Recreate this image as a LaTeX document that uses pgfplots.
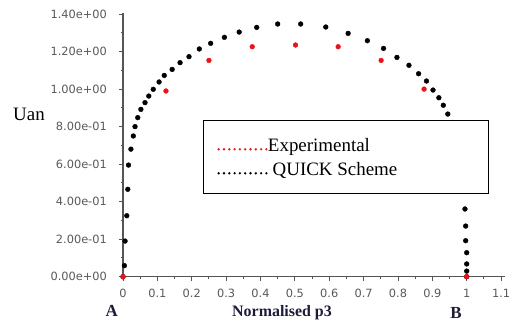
\documentclass[border=0pt]{standalone}
\usepackage{pgfplots}
\pgfplotsset{compat=1.18}
\usepackage{fontspec}
\setmainfont{Liberation Serif}
\newfontfamily\dejavu{DejaVu Sans}
\definecolor{axgray}{HTML}{555555}
\definecolor{expred}{HTML}{E8141C}
\definecolor{labnavy}{HTML}{1C1C38}
\begin{document}
\begin{tikzpicture}
\begin{axis}[
  x=343.7bp, y=187.6bp,
  xmin=0, xmax=1.111, ymin=0, ymax=1.405,
  axis lines*=left,
  axis line style={axgray, line width=1.1bp},
  clip=false,
  xtick={0,0.1,0.2,0.3,0.4,0.5,0.6,0.7,0.8,0.9,1,1.1},
  xticklabels={0,0.1,0.2,0.3,0.4,0.5,0.6,0.7,0.8,0.9,1,1.1},
  ytick={0,0.2,0.4,0.6,0.8,1.0,1.2,1.4},
  yticklabels={0.00e+00,2.00e-01,4.00e-01,6.00e-01,8.00e-01,1.00e+00,1.20e+00,1.40e+00},
  minor x tick num=1, minor y tick num=1,
  tick align=outside,
  major tick length=4bp, minor tick length=2.5bp,
  tick style={axgray, line width=0.9bp},
  ticklabel style={font=\dejavu\fontsize{11.4}{13}\selectfont, text=black!65},
  xticklabel style={inner sep=0pt, anchor=north, yshift=-8bp},
  yticklabel style={inner sep=0pt, anchor=east, xshift=-12bp},
  legend style={at={(axis cs:0.2336,0.835)}, anchor=north west, draw=black, line width=1.2bp,
    fill=white, font=\fontsize{19}{22}\selectfont, inner xsep=13.5bp, inner ysep=12.6bp,
    column sep=0pt, row sep=0pt,
    nodes={inner sep=0pt, minimum height=24bp, anchor=west}},
  legend cell align=left,
]
\addplot[only marks, mark=*, mark size=2.4bp, black, forget plot] coordinates {
(0,0) (0.004,0.059) (0.006,0.190) (0.011,0.325) (0.014,0.466) (0.016,0.595)
(0.023,0.68) (0.030,0.75) (0.035,0.80) (0.043,0.848) (0.052,0.892) (0.064,0.928)
(0.075,0.963) (0.088,0.999) (0.105,1.038) (0.120,1.073) (0.143,1.105) (0.166,1.141)
(0.192,1.173) (0.222,1.214) (0.255,1.244) (0.295,1.276) (0.338,1.304) (0.389,1.329)
(0.450,1.347) (0.517,1.347) (0.590,1.331) (0.655,1.297) (0.711,1.258) (0.758,1.217)
(0.797,1.169) (0.832,1.127) (0.860,1.082) (0.883,1.043) (0.902,0.995) (0.919,0.954)
(0.932,0.914) (0.945,0.867) (0.957,0.80) (0.966,0.72) (0.975,0.64) (0.983,0.56)
(0.989,0.49) (0.995,0.361) (0.997,0.270) (0.997,0.192) (1.0,0.128) (1.0,0.068)
(1.0,0.030) (1.0,0)
};
\addplot[only marks, mark=*, mark size=2.4bp, expred, forget plot] coordinates {
(0,0) (0.125,0.990) (0.25,1.153) (0.376,1.226) (0.502,1.235) (0.626,1.226)
(0.751,1.153) (0.876,1.0) (1,0)
};
\addlegendimage{legend image code/.code={\draw[expred, line width=2.6bp, line cap=round, dash pattern=on 0bp off 5.3bp] (0bp,-4bp) -- (48bp,-4bp);}}
\addlegendentry{\makebox[207bp][l]{Experimental}}
\addlegendimage{legend image code/.code={\draw[black, line width=2.6bp, line cap=round, dash pattern=on 0bp off 5.3bp] (0bp,-4bp) -- (48bp,-4bp);}}
\addlegendentry{\makebox[207bp][l]{ QUICK Scheme}}
\node at (axis cs:-0.2735,0.867) {\fontsize{19}{22}\selectfont Uan};
\node[text=labnavy] at (axis cs:0.4627,-0.1935) {\bfseries\fontsize{16}{18}\selectfont Normalised p3};
\node[text=labnavy] at (axis cs:-0.033,-0.183) {\bfseries\fontsize{17}{18}\selectfont A};
\node[text=labnavy] at (axis cs:0.969,-0.1935) {\bfseries\fontsize{17}{18}\selectfont B};
\path (axis cs:-0.3579,-0.268) rectangle (axis cs:1.1318,1.475);
\end{axis}
\end{tikzpicture}
\end{document}
